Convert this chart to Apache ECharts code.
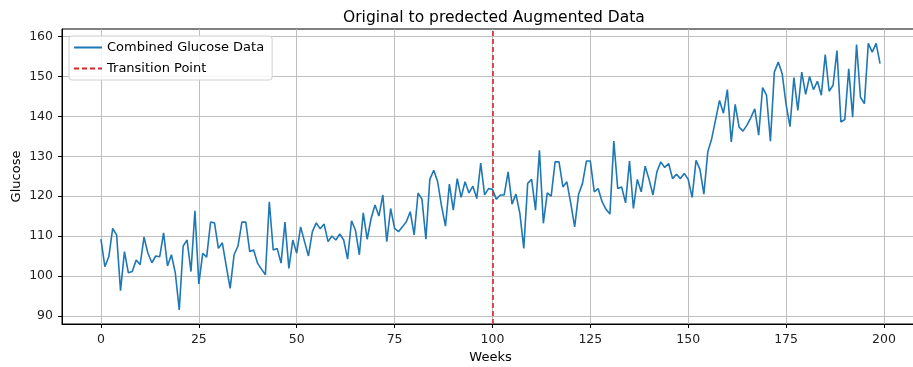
<!DOCTYPE html>
<html>
<head>
<meta charset="utf-8">
<script src="https://cdn.jsdelivr.net/npm/echarts@6/dist/echarts.min.js"></script>
<style>
  html, body { margin: 0; padding: 0; background: #ffffff; }
  #chart { width: 913px; height: 367px; }
</style>
</head>
<body>
<div id="chart"></div>
<script>
// Weekly glucose readings: original weeks followed by the predicted/augmented weeks
const glucose = [
  109.2, 102.3, 104.8, 111.9, 110.3, 96.3, 106.1, 100.8, 101.1, 104.0,
  102.8, 109.7, 105.7, 103.3, 105.0, 104.8, 110.8, 102.5, 105.3, 100.7,
  91.5, 107.5, 109.0, 101.1, 116.3, 98.0, 105.7, 104.7, 113.5, 113.3,
  106.9, 108.3, 102.5, 96.9, 105.3, 107.5, 113.5, 113.5, 106.1, 106.5,
  103.2, 101.7, 100.3, 118.6, 106.5, 106.9, 103.2, 113.5, 101.9, 109.0,
  105.7, 112.3, 108.6, 105.0, 111.1, 113.3, 111.8, 113.0, 108.6, 110.0,
  109.0, 110.5, 109.0, 104.2, 113.8, 111.5, 105.3, 115.8, 109.2, 114.4,
  117.8, 115.0, 120.3, 108.6, 116.9, 111.9, 111.1, 112.3, 113.6, 116.1,
  110.3, 120.8, 119.2, 109.2, 124.2, 126.5, 123.6, 117.5, 112.5, 123.0,
  116.5, 124.4, 119.7, 123.6, 120.8, 122.5, 119.4, 128.3, 120.3, 121.9,
  121.7, 119.2, 120.3, 120.3, 126.1, 118.0, 120.5, 115.7, 106.9, 123.2,
  124.2, 116.5, 131.5, 113.2, 120.8, 120.0, 128.6, 128.6, 122.3, 123.6,
  118.2, 112.3, 120.5, 123.2, 128.8, 128.8, 121.1, 121.9, 118.6, 116.7,
  115.5, 133.8, 121.9, 122.3, 118.3, 128.8, 116.9, 124.2, 121.1, 127.5,
  124.2, 120.3, 126.1, 128.6, 127.2, 128.2, 124.4, 125.5, 124.4, 125.7,
  124.2, 119.7, 129.0, 126.7, 120.5, 131.1, 134.4, 139.2, 144.0, 140.8,
  146.7, 133.6, 143.0, 137.3, 136.3, 137.8, 139.7, 141.9, 135.3, 147.2,
  145.3, 133.8, 151.1, 153.6, 150.7, 143.0, 137.4, 149.7, 141.5, 151.1,
  145.5, 150.0, 146.7, 148.8, 145.3, 155.5, 146.3, 147.8, 156.5, 138.6,
  139.2, 151.9, 139.8, 158.0, 144.8, 143.2, 158.3, 156.1, 158.3, 153.2
];
const weeks = glucose.map((_, i) => i);
const transitionWeek = 100;

const xTicks = [0, 25, 50, 75, 100, 125, 150, 175, 200];
const yTicks = [90, 100, 110, 120, 130, 140, 150, 160];

const FONT = 'DejaVu Sans';
const BLUE = '#1f77b4';
const RED = '#d62728';

const chart = echarts.init(document.getElementById('chart'), null, { renderer: 'canvas' });

const axisCommon = {
  type: 'value',
  nameLocation: 'middle',
  nameMoveOverlap: false,
  nameTextStyle: { fontFamily: FONT, fontSize: 13, color: '#000' },
  axisLine: { show: true, onZero: false, lineStyle: { color: '#000', width: 1 } },
  axisTick: { show: true, length: 4, lineStyle: { color: '#000', width: 1 } },
  axisLabel: { fontFamily: FONT, fontSize: 12.5, color: '#222' },
  splitLine: { show: true, lineStyle: { color: '#b8b8b8', width: 0.9 } }
};

chart.setOption({
  animation: false,
  backgroundColor: '#ffffff',
  textStyle: { fontFamily: FONT },
  title: {
    text: 'Original to predected Augmented Data',
    left: 338,
    top: 5,
    textStyle: { fontFamily: FONT, fontSize: 15.5, fontWeight: 'normal', color: '#000' }
  },
  // plot area extends slightly past the right edge of the page
  grid: {
    left: 62, top: 29, width: 857, bottom: 43,
    outerBoundsMode: 'none',
    containLabel: false,
    show: true, borderColor: '#000', borderWidth: 1, backgroundColor: 'transparent'
  },
  legend: {
    orient: 'vertical',
    left: 69,
    top: 36,
    padding: [5, 8, 5, 4],
    itemWidth: 28,
    itemHeight: 12,
    itemGap: 8,
    itemStyle: { opacity: 0 },
    backgroundColor: 'rgba(255,255,255,0.85)',
    borderColor: '#d0d0d0',
    borderWidth: 1,
    borderRadius: 3,
    textStyle: { fontFamily: FONT, fontSize: 13, color: '#000' },
    data: ['Combined Glucose Data', 'Transition Point']
  },
  xAxis: Object.assign({}, axisCommon, {
    name: 'Weeks',
    nameGap: 27,
    min: -9.95,
    max: 208.95,
    axisTick: Object.assign({}, axisCommon.axisTick, { customValues: xTicks }),
    axisLabel: Object.assign({}, axisCommon.axisLabel, { customValues: xTicks, margin: 9 })
  }),
  yAxis: Object.assign({}, axisCommon, {
    name: 'Glucose',
    nameGap: 39,
    nameRotate: 90,
    min: 87.95,
    max: 161.9,
    axisTick: Object.assign({}, axisCommon.axisTick, { customValues: yTicks }),
    axisLabel: Object.assign({}, axisCommon.axisLabel, { customValues: yTicks, margin: 9 })
  }),
  series: [
    {
      name: 'Combined Glucose Data',
      type: 'line',
      data: weeks.map((w, i) => [w, glucose[i]]),
      symbol: 'none',
      color: BLUE,
      lineStyle: { color: BLUE, width: 1.6 },
      z: 3
    },
    {
      name: 'Transition Point',
      type: 'line',
      data: [],
      symbol: 'none',
      color: RED,
      lineStyle: { color: RED, width: 1.6, type: [5, 3] },
      markLine: {
        silent: true,
        symbol: ['none', 'none'],
        label: { show: false },
        lineStyle: { color: RED, width: 1.6, type: [5, 3] },
        data: [{ xAxis: transitionWeek }]
      },
      z: 4
    }
  ]
});
</script>
</body>
</html>
